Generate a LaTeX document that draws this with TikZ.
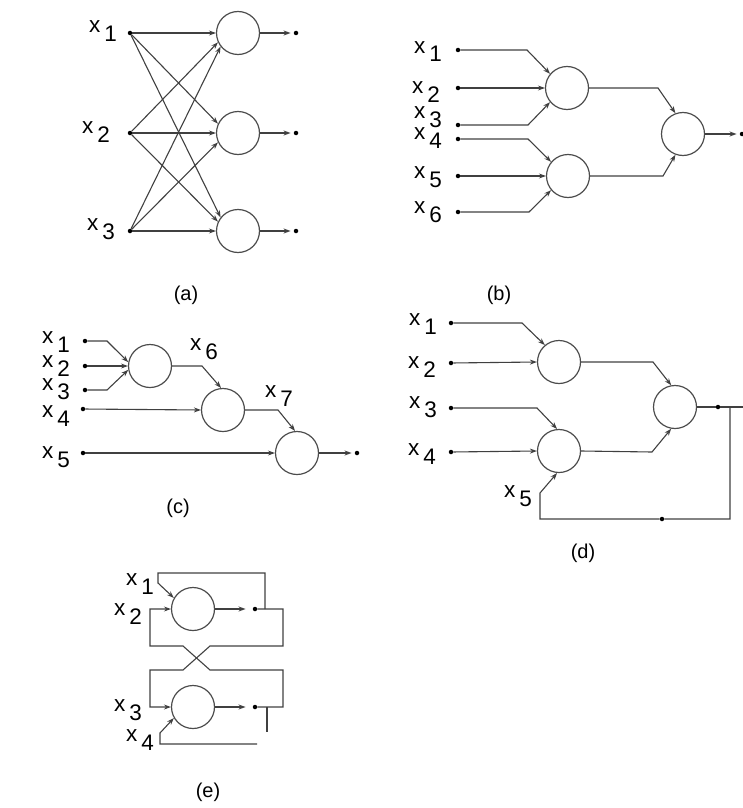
\documentclass[tikz,border=0pt]{standalone}
\usepackage{fontspec}
\setmainfont{Liberation Sans}
\usetikzlibrary{arrows.meta}
\newcommand{\xlab}[1]{x\hspace{4pt}\raisebox{-9pt}{#1}}
\begin{document}
\begin{tikzpicture}[x=1pt,y=-1pt,
 wire/.style={draw=black!75,line width=1.1pt},
 arr/.style={wire,-{Stealth[length=7pt,width=5pt]}},
 neuron/.style={circle,draw=black!70,line width=1.2pt,minimum size=43pt,inner sep=0pt},
 dot/.style={circle,fill=black,inner sep=0pt,minimum size=4.5pt},
 lab/.style={anchor=base west,inner sep=0pt,font=\fontsize{22.5}{25}\selectfont},
 captext/.style={inner sep=0pt,font=\fontsize{20}{23}\selectfont}]
\useasboundingbox (0,0) rectangle (743,808);

% ---------------- (a)
\node[dot] (a1) at (130,33) {};
\node[dot] (a2) at (130,133) {};
\node[dot] (a3) at (130,231) {};
\node[lab] (la1) at (89,33) {\xlab{1}};
\node[lab] (la2) at (82,133) {\xlab{2}};
\node[lab] (la3) at (87,230) {\xlab{3}};
\node[neuron] (A1) at (238,33) {};
\node[neuron] (A2) at (238,133) {};
\node[neuron] (A3) at (238,231) {};
\draw[arr] (a1) -- (A1.west);
\draw[arr] (a2) -- (A1.205);
\draw[arr] (a3) -- (A1.218);
\draw[arr] (a1) -- (A2.155);
\draw[arr] (a2) -- (A2.west);
\draw[arr] (a3) -- (A2.205);
\draw[arr] (a1) -- (A3.142);
\draw[arr] (a2) -- (A3.155);
\draw[arr] (a3) -- (A3.west);
\node[dot] (ao1) at (296,33) {};
\node[dot] (ao2) at (296,133) {};
\node[dot] (ao3) at (296,231) {};
\draw[arr,shorten >=3pt] (A1) -- (ao1);
\draw[arr,shorten >=3pt] (A2) -- (ao2);
\draw[arr,shorten >=3pt] (A3) -- (ao3);
\node[captext] (capa) at (186,295) {(a)};

% ---------------- (b)
\node[dot] (bx1) at (458,50) {};
\node[dot] (bx2) at (458,88) {};
\node[dot] (bx3) at (458,125) {};
\node[dot] (bx4) at (458,139) {};
\node[dot] (bx5) at (458,176) {};
\node[dot] (bx6) at (458,212) {};
\node[lab] (lb1) at (414,53) {\xlab{1}};
\node[lab] (lb2) at (412,93) {\xlab{2}};
\node[lab] (lb3) at (414,118) {\xlab{3}};
\node[lab] (lb4) at (414,139) {\xlab{4}};
\node[lab] (lb5) at (414,178) {\xlab{5}};
\node[lab] (lb6) at (414,213) {\xlab{6}};
\node[neuron] (B1) at (567,88) {};
\node[neuron] (B2) at (568,176) {};
\node[neuron] (B3) at (683,134) {};
\draw[arr] (bx1) -- (527,50) -- (B1.140);
\draw[arr] (bx2) -- (B1.west);
\draw[arr] (bx3) -- (528,125) -- (B1.220);
\draw[arr] (bx4) -- (528,139) -- (B2.140);
\draw[arr] (bx5) -- (B2.west);
\draw[arr] (bx6) -- (529,212) -- (B2.220);
\draw[arr] (B1.east) -- (658,88) -- (B3.110);
\draw[arr] (B2.east) -- (663,176) -- (B3.250);
\node[dot] (bo) at (742,134) {};
\draw[arr,shorten >=3pt] (B3) -- (bo);
\node[captext] (capb) at (499,295) {(b)};

% ---------------- (c)
\node[dot] (cx1) at (85,341) {};
\node[dot] (cx2) at (85,366) {};
\node[dot] (cx3) at (85,390) {};
\node[dot] (cx4) at (83,409) {};
\node[dot] (cx5) at (83,453) {};
\node[lab] (lc1) at (42,343) {\xlab{1}};
\node[lab] (lc2) at (42,367) {\xlab{2}};
\node[lab] (lc3) at (42,390) {\xlab{3}};
\node[lab] (lc4) at (42,417) {\xlab{4}};
\node[lab] (lc5) at (42,458) {\xlab{5}};
\node[neuron] (C1) at (150,366) {};
\node[neuron] (C2) at (223,410) {};
\node[neuron] (C3) at (297,453) {};
\draw[arr] (cx1) -- (107,341) -- (C1.170);
\draw[arr] (cx2) -- (C1.west);
\draw[arr] (cx3) -- (107,390) -- (C1.190);
\draw[arr] (C1.east) -- (202,366) -- (C2.95);
\node[lab] (lc6) at (190,350) {\xlab{6}};
\draw[arr] (cx4) -- (C2.west);
\draw[arr] (C2.east) -- (278,410) -- (C3.95);
\node[lab] (lc7) at (265,397) {\xlab{7}};
\draw[arr] (cx5) -- (C3.west);
\node[dot] (co) at (357,453) {};
\draw[arr,shorten >=3pt] (C3) -- (co);
\node[captext] (capc) at (178,508) {(c)};

% ---------------- (d)
\node[dot] (dx1) at (451,323) {};
\node[dot] (dx2) at (451,363) {};
\node[dot] (dx3) at (451,408) {};
\node[dot] (dx4) at (451,452) {};
\node[lab] (ld1) at (409,325) {\xlab{1}};
\node[lab] (ld2) at (408,368) {\xlab{2}};
\node[lab] (ld3) at (409,408) {\xlab{3}};
\node[lab] (ld4) at (408,455) {\xlab{4}};
\node[lab] (ld5) at (504,497) {\xlab{5}};
\node[neuron] (D1) at (559,362) {};
\node[neuron] (D2) at (559,451) {};
\node[neuron] (D3) at (675,407) {};
\draw[arr] (dx1) -- (522,323) -- (D1.130);
\draw[arr] (dx2) -- (D1.west);
\draw[arr] (dx3) -- (537,408) -- (D2.95);
\draw[arr] (dx4) -- (D2.west);
\draw[arr] (D1.east) -- (653,362) -- (D3.100);
\draw[arr] (D2.east) -- (652,452) -- (D3.260);
\node[dot] (dout) at (718,407) {};
\coordinate (dj) at (730,407);
\coordinate (dend) at (743,407);
\node[dot] (dfb) at (662,519) {};
\draw[wire] (D3.east) -- (dout);
\draw[wire] (dout) -- (dend);
\draw[arr] (dj) -- (730,519) -- (dfb) -- (540,519) -- (540,493) -- (D2.265);
\node[captext] (capd) at (583,553) {(d)};

% ---------------- (e)
\node[neuron] (E1) at (193,609) {};
\node[neuron] (E2) at (193,707) {};
\node[lab] (le1) at (126,585) {\xlab{1}};
\node[lab] (le2) at (114,615) {\xlab{2}};
\node[lab] (le3) at (114,711) {\xlab{3}};
\node[lab] (le4) at (126,741) {\xlab{4}};
\node[dot] (eo1) at (255,609) {};
\node[dot] (eo2) at (255,707) {};
\draw[arr,shorten >=7pt] (E1) -- (eo1);
\draw[arr,shorten >=7pt] (E2) -- (eo2);
\coordinate (ej1) at (265,609);
\coordinate (ej2) at (267,707);
% output of E1 -> back to its own upper input
\draw[arr] (ej1) -- (265,573) -- (158,573) -- (158,583) -- (E1.150);
% output of E1 -> crossing -> E2 left input
\draw[arr] (eo1) -- (283,609) -- (283,646) -- (210,646) -- (183,670) -- (150,670) -- (150,707) -- (E2.west);
% output of E2 -> crossing -> E1 left input
\draw[arr] (eo2) -- (283,707) -- (283,670) -- (210,670) -- (183,646) -- (150,646) -- (150,609) -- (E1.west);
% stub below E2 output
\draw[wire] (ej2) -- (267,732);
% x4 input
\draw[arr] (257,744) -- (160,744) -- (160,733) -- (E2.210);
\node[captext] (cape) at (208,792) {(e)};
\end{tikzpicture}
\end{document}
